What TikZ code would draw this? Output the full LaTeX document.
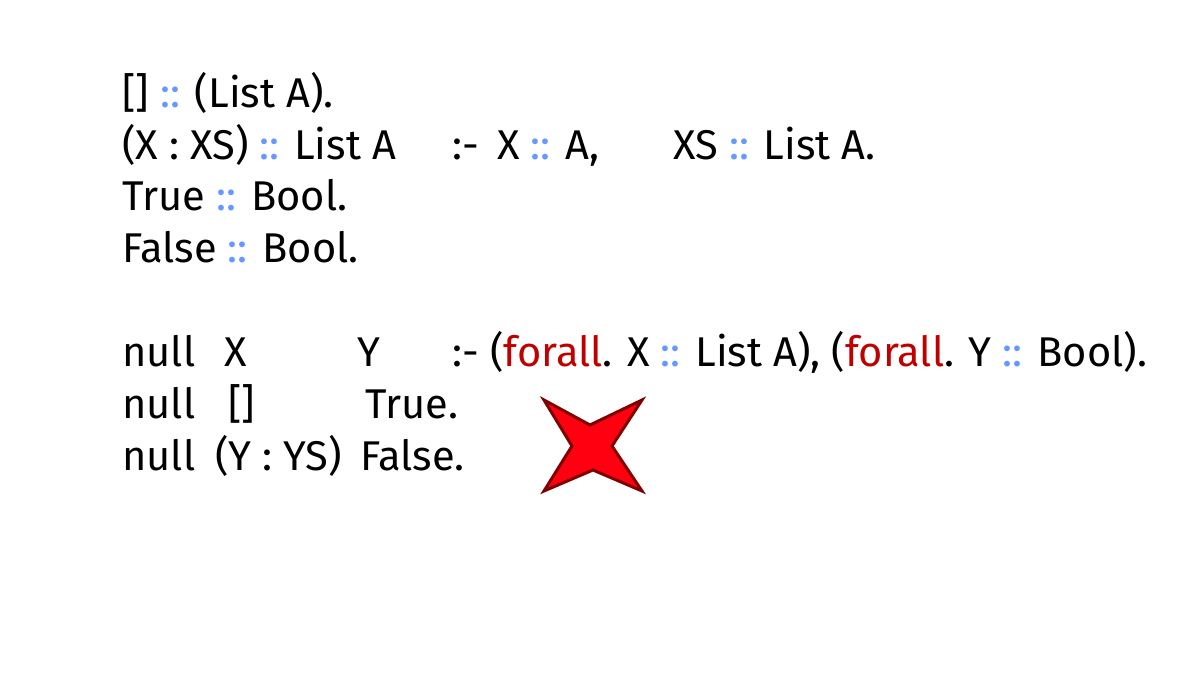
\documentclass[tikz,border=0pt]{standalone}
\usepackage{fontspec}
\setmainfont{Fira Sans}
\usepackage{tikz}
\usetikzlibrary{positioning}
\definecolor{typeblue}{RGB}{102,153,255}
\definecolor{keyred}{RGB}{192,0,0}
\definecolor{starred}{RGB}{255,0,16}
\definecolor{stardark}{RGB}{128,0,0}
\def\Of{\textcolor{typeblue}{::}}
\def\All{\textcolor{keyred}{forall}}

\begin{document}
\begin{tikzpicture}[x=0.5pt,y=-0.5pt,% pixel-like units, y going down
			every node/.style={
				anchor=base west,	% columns line up on the left edge
				inner sep=0pt,
				font=\fontsize{20.8pt}{24pt}\selectfont
			}
		]
		\useasboundingbox (0,0) rectangle (1200,675);
		% the type facts
		\node (T1) at (122,107) {[] \Of{} (List A).};
		\node (T2) at (122,159) {(X : XS) \Of{} List A};
		\node (T2b) at (452,159) {:-};
		\node (T2c) at (497,159) {X \Of{} A,};
		\node (T2d) at (673,159) {XS \Of{} List A.};
		\node (T3) at (122,210) {True \Of{} Bool.};
		\node (T4) at (122,262) {False \Of{} Bool.};
		% the null clauses
		\node (N1) at (122,366) {null};
		\node (N1x) at (224,366) {X};
		\node (N1y) at (357,366) {Y};
		\node (N1b) at (452,366) {:- (\All. X \Of{} List A), (\All. Y \Of{} Bool).};
		\node (N2) at (122,418) {null};
		\node (N2x) at (228,418) {[]};
		\node (N2y) at (365,418) {True.};
		\node (N3) at (122,470) {null};
		\node (N3x) at (215,470) {(Y : YS)};
		\node (N3y) at (360,470) {False.};
		% the cross
		\draw[fill=starred,draw=stardark,line width=1.5pt,line join=miter]
			(544,400) -- (590,425) -- (642,400) -- (612,446) -- (642,491)
			-- (593,470) -- (544,491) -- (572,446) -- cycle;
	\end{tikzpicture}
\end{document}
